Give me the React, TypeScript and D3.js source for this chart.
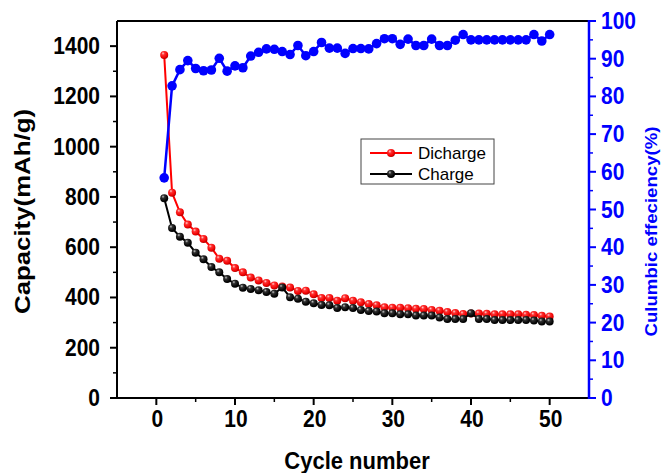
import React from "react";
import * as d3 from "d3";

// Cycling data: capacity (mAh/g) and coulombic efficiency (%)
const cycles: number[] = d3.range(1, 51);

const discharge: number[] = [
  1365, 817, 739, 690, 662, 633, 598, 554, 546, 517,
  500, 479, 468, 458, 448, 444, 440, 426, 427, 413,
  398, 398, 387, 397, 387, 381, 374, 369, 361, 359,
  359, 357, 355, 354, 350, 347, 342, 338, 334, 336,
  336, 335, 333, 333, 333, 333, 331, 330, 327, 324,
];

const charge: number[] = [
  795, 676, 642, 618, 578, 552, 521, 500, 473, 455,
  439, 434, 429, 422, 415, 440, 401, 395, 383, 377,
  370, 369, 358, 361, 358, 350, 346, 344, 337, 337,
  333, 333, 328, 328, 328, 320, 314, 314, 314, 337,
  314, 314, 310, 310, 310, 310, 310, 308, 304, 304,
];

const efficiency: number[] = [
  58.4, 82.8, 87.1, 89.5, 87.4, 86.8, 87.0, 90.1, 86.7, 88.1,
  87.6, 90.7, 91.7, 92.6, 92.5, 91.9, 91.1, 93.5, 90.8, 91.9,
  94.3, 92.8, 92.8, 91.4, 92.7, 92.7, 92.6, 94.0, 95.3, 95.3,
  93.8, 95.2, 93.5, 93.5, 95.2, 93.5, 93.5, 94.9, 96.4, 95.0,
  95.0, 95.0, 95.0, 95.0, 95.0, 95.0, 95.0, 96.4, 94.7, 96.4,
];

const xTicks: number[] = [0, 10, 20, 30, 40, 50];
const xMinor: number[] = [5, 15, 25, 35, 45];
const yLeftTicks: number[] = [0, 200, 400, 600, 800, 1000, 1200, 1400];
const yLeftMinor: number[] = [100, 300, 500, 700, 900, 1100, 1300];
const yRightTicks: number[] = [0, 10, 20, 30, 40, 50, 60, 70, 80, 90, 100];
const yRightMinor: number[] = [5, 15, 25, 35, 45, 55, 65, 75, 85, 95];

const W = 661;
const H = 473;
const L = 117;
const R = 589;
const T = 21;
const B = 398;

const FONT = "'Liberation Sans', Arial, Helvetica, sans-serif";
const BLUE = "#0000ff";
const SY = 1.12; // slightly tall lettering

export default function App() {
  const x = d3.scaleLinear().domain([-5, 55]).range([L, R]);
  const yL = d3.scaleLinear().domain([0, 1500]).range([B, T]);
  const yR = d3.scaleLinear().domain([0, 100]).range([B, T]);

  const lineL = d3
    .line<number>()
    .x((_, i) => x(cycles[i]))
    .y((d) => yL(d));
  const lineR = d3
    .line<number>()
    .x((_, i) => x(cycles[i]))
    .y((d) => yR(d));

  return (
    <svg
      width={W}
      height={H}
      style={{ position: "absolute", left: 0, top: 0, background: "#fff" }}
      fontFamily={FONT}
    >
      <defs>
        <radialGradient id="ballRed" cx="0.4" cy="0.35" r="0.65" fx="0.35" fy="0.3">
          <stop offset="0" stopColor="#ffd0d0" />
          <stop offset="0.3" stopColor="#ff3030" />
          <stop offset="0.8" stopColor="#ee0000" />
          <stop offset="1" stopColor="#b00000" />
        </radialGradient>
        <radialGradient id="ballBlack" cx="0.4" cy="0.35" r="0.65" fx="0.35" fy="0.3">
          <stop offset="0" stopColor="#c8c8c8" />
          <stop offset="0.3" stopColor="#303030" />
          <stop offset="0.8" stopColor="#050505" />
          <stop offset="1" stopColor="#000000" />
        </radialGradient>
      </defs>
      <rect x={0} y={0} width={W} height={H} fill="#fff" />

      {/* frame */}
      <line x1={L} x2={R} y1={T} y2={T} stroke="#000" strokeWidth={2} />
      <line x1={L} x2={R} y1={B} y2={B} stroke="#000" strokeWidth={2} />
      <line x1={L} x2={L} y1={T} y2={B + 1} stroke="#000" strokeWidth={2} />
      <line x1={R} x2={R} y1={T - 1} y2={B + 1} stroke={BLUE} strokeWidth={2.5} />

      {/* bottom axis */}
      {xTicks.map((t) => (
        <g key={"xt" + t}>
          <line x1={x(t)} x2={x(t)} y1={B} y2={B + 7} stroke="#000" strokeWidth={2} />
          <text
            transform={`translate(${x(t) + 1},427) scale(1,${SY})`}
            textAnchor="middle"
            fontSize={21}
            fontWeight="bold"
            fill="#000"
          >
            {t}
          </text>
        </g>
      ))}
      {xMinor.map((t) => (
        <line key={"xm" + t} x1={x(t)} x2={x(t)} y1={B} y2={B + 4} stroke="#000" strokeWidth={1.5} />
      ))}
      <text
        transform={`translate(357,469) scale(1,${SY})`}
        textAnchor="middle"
        fontSize={22}
        fontWeight="bold"
        fill="#000"
      >
        Cycle number
      </text>

      {/* left axis */}
      {yLeftTicks.map((t) => (
        <g key={"yl" + t}>
          <line x1={L - 7} x2={L} y1={yL(t)} y2={yL(t)} stroke="#000" strokeWidth={2} />
          <text
            transform={`translate(100,${yL(t) + 8}) scale(1,${SY})`}
            textAnchor="end"
            fontSize={21}
            fontWeight="bold"
            fill="#000"
          >
            {t}
          </text>
        </g>
      ))}
      {yLeftMinor.map((t) => (
        <line key={"ylm" + t} x1={L - 4} x2={L} y1={yL(t)} y2={yL(t)} stroke="#000" strokeWidth={1.5} />
      ))}
      <text
        transform={`translate(30,${(T + B) / 2 + 2}) rotate(-90)`}
        textAnchor="middle"
        fontSize={22}
        fontWeight="bold"
        fill="#000"
        textLength={205}
        lengthAdjust="spacingAndGlyphs"
      >
        Capacity(mAh/g)
      </text>

      {/* right axis */}
      {yRightTicks.map((t) => (
        <g key={"yr" + t}>
          <line x1={R} x2={R + 7} y1={yR(t)} y2={yR(t)} stroke={BLUE} strokeWidth={2} />
          <text
            transform={`translate(601,${yR(t) + 8}) scale(1,${SY})`}
            textAnchor="start"
            fontSize={21}
            fontWeight="bold"
            fill={BLUE}
          >
            {t}
          </text>
        </g>
      ))}
      {yRightMinor.map((t) => (
        <line key={"yrm" + t} x1={R} x2={R + 4} y1={yR(t)} y2={yR(t)} stroke={BLUE} strokeWidth={1.5} />
      ))}
      <text
        transform={`translate(657,${(T + B) / 2 + 22}) rotate(-90)`}
        textAnchor="middle"
        fontSize={17}
        fontWeight="bold"
        fill={BLUE}
        textLength={210}
        lengthAdjust="spacingAndGlyphs"
      >
        Culumbic effeciency(%)
      </text>

      {/* discharge */}
      <path d={lineL(discharge) || ""} fill="none" stroke="#ff0000" strokeWidth={2} />
      {discharge.map((d, i) => (
        <circle key={"d" + i} cx={x(cycles[i])} cy={yL(d)} r={4} fill="url(#ballRed)" />
      ))}

      {/* charge */}
      <path d={lineL(charge) || ""} fill="none" stroke="#000" strokeWidth={2} />
      {charge.map((d, i) => (
        <circle key={"c" + i} cx={x(cycles[i])} cy={yL(d)} r={4} fill="url(#ballBlack)" />
      ))}

      {/* efficiency */}
      <path d={lineR(efficiency) || ""} fill="none" stroke={BLUE} strokeWidth={2.5} />
      {efficiency.map((d, i) => (
        <circle key={"e" + i} cx={x(cycles[i])} cy={yR(d)} r={4.8} fill={BLUE} />
      ))}

      {/* legend */}
      <rect x={361} y={139} width={133} height={45} fill="#fff" stroke="#444" strokeWidth={1} />
      <line x1={370} x2={412} y1={153} y2={153} stroke="#ff0000" strokeWidth={2} />
      <circle cx={391} cy={153} r={4} fill="url(#ballRed)" />
      <text x={418} y={159} fontSize={17} fill="#000">
        Dicharge
      </text>
      <line x1={370} x2={412} y1={174} y2={174} stroke="#000" strokeWidth={2} />
      <circle cx={391} cy={174} r={4} fill="url(#ballBlack)" />
      <text x={418} y={180} fontSize={17} fill="#000">
        Charge
      </text>
    </svg>
  );
}
